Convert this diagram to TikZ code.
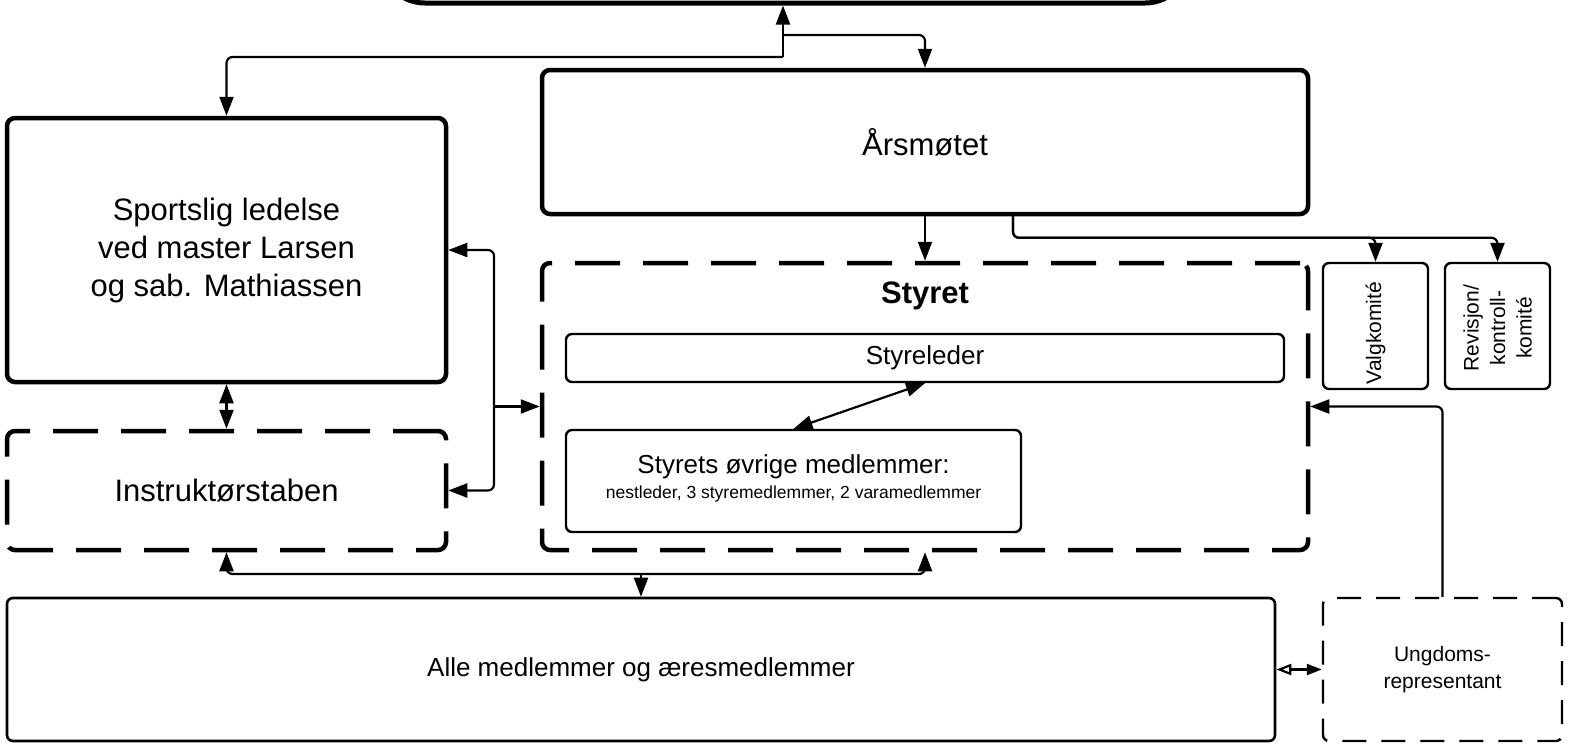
\documentclass[tikz,border=0pt]{standalone}
\usepackage{fontspec}
\setmainfont{Liberation Sans}
\usetikzlibrary{arrows.meta,calc}
\begin{document}
\begin{tikzpicture}[x=1pt,y=-1pt,
  thickbox/.style={draw,line width=4.5pt,rounded corners=8pt,inner sep=0pt,align=center},
  thinbox/.style={draw,line width=2.4pt,rounded corners=6pt,inner sep=0pt,align=center},
  bigdash/.style={dash pattern=on 45pt off 23pt},
  smalldash/.style={dash pattern=on 24pt off 15pt},
  conn/.style={line width=2.2pt,rounded corners=6pt},
  >={Triangle[length=19pt,width=14pt]},
  bigfont/.style={font=\fontsize{31}{38}\selectfont},
  midfont/.style={font=\fontsize{26}{30}\selectfont},
  smallfont/.style={font=\fontsize{21}{26.5}\selectfont},
  tinyfont/.style={font=\fontsize{17.5}{22}\selectfont}
]
\useasboundingbox (0,0) rectangle (1572,748);

% boxes
\node[thickbox,line width=5pt,rounded corners=45pt,minimum width=810pt,minimum height=90pt] (top) at (785,-42) {};
\node[thickbox,bigfont,minimum width=766pt,minimum height=144pt] (ars) at (925,142) {Årsmøtet};
\node[thickbox,bigfont,minimum width=439pt,minimum height=264pt] (sport) at (226.5,250) {Sportslig ledelse\\ved master Larsen\\og sab. Mathiassen};
\node[thickbox,bigdash,bigfont,minimum width=439pt,minimum height=119pt] (instr) at (226.5,490.5) {Instruktørstaben};
\node[thickbox,bigdash,minimum width=766pt,minimum height=287pt] (styret) at (925,406.5) {};
\node[font=\fontsize{31}{38}\selectfont\bfseries] (styrettitle) at (925,296) {Styret};
\node[thinbox,midfont,minimum width=718pt,minimum height=48pt] (leder) at (925,358) {Styreleder};
\node[thinbox,minimum width=455pt,minimum height=102pt] (ovr) at (793.5,481) {};
\node[midfont] (ovrtitle) at (793.5,467) {Styrets øvrige medlemmer:};
\node[tinyfont] (ovrsub) at (793.5,494) {nestleder, 3 styremedlemmer, 2 varamedlemmer};
\node[thinbox,minimum width=105pt,minimum height=126pt] (valg) at (1375.5,326) {};
\node[smallfont,rotate=90] (valgtxt) at (1375.5,333) {Valgkomité};
\node[thinbox,minimum width=105pt,minimum height=126pt] (rev) at (1497.5,326) {};
\node[smallfont,rotate=90,align=center] (revtxt) at (1497.5,328) {Revisjon/\\kontroll-\\komité};
\node[thinbox,midfont,line width=2.6pt,minimum width=1268pt,minimum height=143pt] (alle) at (641,669.5) {Alle medlemmer og æresmedlemmer};
\node[thinbox,smalldash,smallfont,minimum width=239pt,minimum height=143pt] (ung) at (1442.5,669.5) {Ungdoms-\\representant};

% junctions
\coordinate (jtop) at (783,57);
\coordinate (jr) at (783,35);
\coordinate (jl) at (494,406.5);
\coordinate (jb) at (641,574);
\coordinate (a1) at (1013,214);

% connectors
\draw[conn,->] (jtop) -- (jtop |- top.south);
\draw[conn,->] (jtop) -| (sport.north);
\draw[conn,->] (jr) -| (ars.north);
\draw[conn,<->] (sport.south) -- (instr.north);
\draw[conn,->] (ars.south) -- (styret.north);
\draw[conn,->] (a1) |- ($(valg.north)+(0,-24)$) -- (valg.north);
\draw[conn,->] (a1) |- ($(rev.north)+(0,-24)$) -- (rev.north);
\draw[conn,->] (jl) -- (styret.west);
\draw[conn,->] (jl) |- (sport.east);
\draw[conn,->] (jl) |- (instr.east);
\draw[conn,<->] (ovr.north) -- (leder.south);
\draw[conn,->] (jb) -- (alle.north);
\draw[conn,->] (jb) -| (instr.south);
\draw[conn,->] (jb) -| (styret.south);
\draw[conn,->] (ung.north) |- (styret.east);
\draw[conn,{Triangle[open,length=15pt,width=11pt]}-{Triangle[length=15pt,width=11pt]}] (alle.east) -- (ung.west);
\end{tikzpicture}
\end{document}
